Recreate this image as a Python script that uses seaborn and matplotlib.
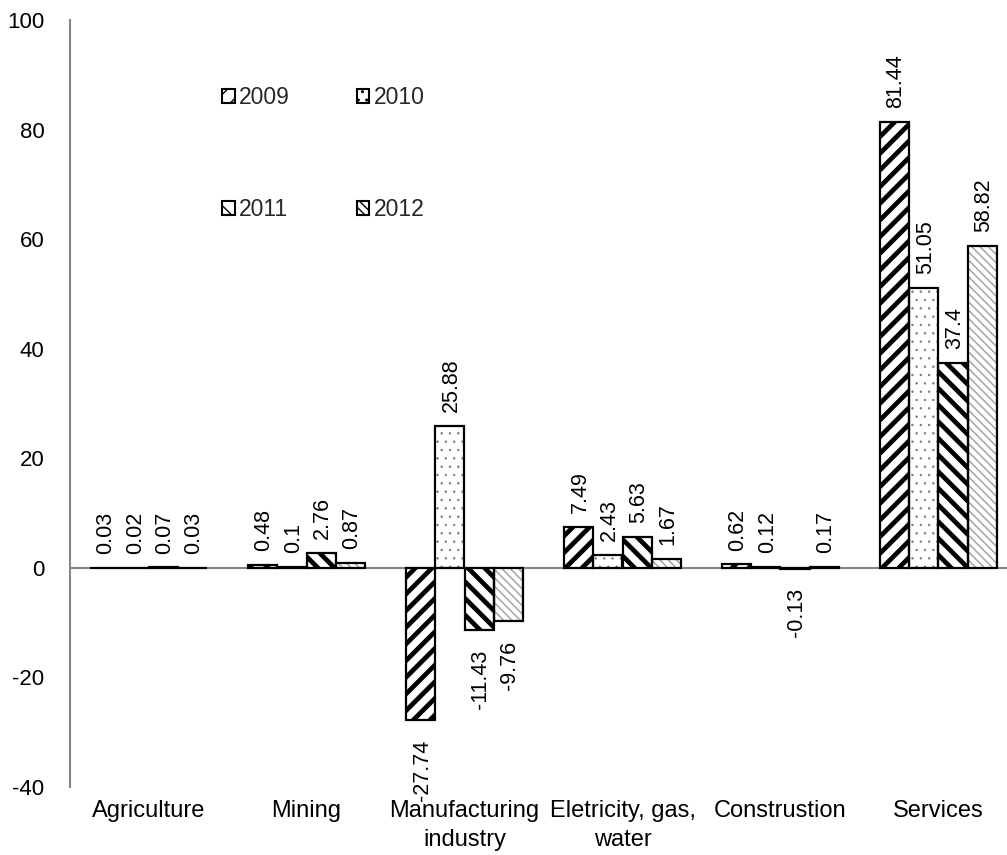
import numpy as np
import pandas as pd
import matplotlib
matplotlib.use("Agg")
import matplotlib.pyplot as plt
import matplotlib.patches as mpatches
import seaborn as sns

# ---------------- data ----------------
categories = ["Agriculture", "Mining", "Manufacturing\nindustry",
              "Eletricity, gas,\nwater", "Construstion", "Services"]
years = ["2009", "2010", "2011", "2012"]
v2009 = [0.03, 0.48, -27.74, 7.49, 0.62, 81.44]
v2010 = [0.02, 0.10, 25.88, 2.43, 0.12, 51.05]
v2011 = [0.07, 2.76, -11.43, 5.63, -0.13, 37.40]
v2012 = [0.03, 0.87, -9.76, 1.67, 0.17, 58.82]
yticks = [-40, -20, 0, 20, 40, 60, 80, 100]

series = [v2009, v2010, v2011, v2012]
df = pd.DataFrame({
    "sector": categories * len(years),
    "year": np.repeat(years, len(categories)),
    "value": sum(series, []),
})

# ---------------- style ----------------
sns.set_style("white")
plt.rcParams["font.family"] = ["Liberation Sans", "DejaVu Sans"]
plt.rcParams["axes.unicode_minus"] = False
GRAY = "#868686"

# hatch, hatch colour, hatch linewidth per year
styles = {
    "2009": ("//", "black", 3.4),
    "2010": ("..", "#7a7a7a", 0.5),
    "2011": ("\\\\", "black", 3.4),
    "2012": ("\\\\\\\\", "#a5a5a5", 1.1),
}

fig = plt.figure(figsize=(10.07, 8.55), dpi=100)
ax = fig.add_axes([69.5 / 1007, (855 - 787) / 855, 948 / 1007, 767 / 855])

sns.barplot(data=df, x="sector", y="value", hue="year", order=categories,
            hue_order=years, palette=["white"] * 4, saturation=1, width=0.74,
            errorbar=None, legend=False, linewidth=0, ax=ax, zorder=3)

for cont, yr, vals in zip(ax.containers, years, series):
    h, hc, hlw = styles[yr]
    for p, v in zip(cont.patches, vals):
        p.set_hatch(h)
        p.set_edgecolor(hc)
        p.set_linewidth(0)
        if hasattr(p, "set_hatch_linewidth"):
            p.set_hatch_linewidth(hlw)
        outline = mpatches.Rectangle(p.get_xy(), p.get_width(), p.get_height(),
                                     fill=False, edgecolor="black", lw=1.6, zorder=4)
        ax.add_patch(outline)
        xc = p.get_x() + p.get_width() / 2
        ax.annotate(f"{v:g}", (xc, v),
                    xytext=(1, 10 if v >= 0 else -14), textcoords="offset points",
                    rotation=90, ha="center", va="bottom" if v >= 0 else "top",
                    fontsize=15.5, color="black", zorder=5)

# ---------------- axes ----------------
ax.set_ylim(-40, 100)
ax.set_xlim(-0.5, len(categories) - 0.5)
ax.set_yticks(yticks)
ax.set_xlabel("")
ax.set_ylabel("")
for s in ["top", "right"]:
    ax.spines[s].set_visible(False)
ax.spines["left"].set_color(GRAY)
ax.spines["left"].set_linewidth(1.5)
ax.spines["bottom"].set_position(("data", 0))
ax.spines["bottom"].set_color(GRAY)
ax.spines["bottom"].set_linewidth(1.5)
ax.spines["bottom"].set_zorder(2)

ax.tick_params(axis="y", direction="out", length=6, width=1.5, color=GRAY,
               labelsize=16, pad=12, labelcolor="black")
ax.set_xticks(np.arange(len(categories) + 1) - 0.5, minor=True)
ax.tick_params(axis="x", which="major", length=0, pad=167, labelsize=17,
               labelcolor="black")
ax.tick_params(axis="x", which="minor", direction="out", length=6, width=1.5,
               color=GRAY)
for lbl in ax.get_xticklabels():
    lbl.set_linespacing(1.4)

# ---------------- legend ----------------
handles = {}
for yr in years:
    h, hc, hlw = styles[yr]
    hp = mpatches.Patch(facecolor="white", edgecolor="black", hatch=h, lw=1.5)
    if hasattr(hp, "set_hatch_linewidth"):
        hp.set_hatch_linewidth(hlw)
    handles[yr] = hp
order = ["2009", "2011", "2010", "2012"]
ax.legend([handles[k] for k in order], order, ncol=2, loc="upper left",
          bbox_to_anchor=(0.161, 0.914), frameon=False, borderpad=0,
          borderaxespad=0, handlelength=0.55, handleheight=0.55,
          handletextpad=0.2, labelspacing=3.9, columnspacing=2.9,
          fontsize=16.5)

fig.savefig("out.png", dpi=100)
